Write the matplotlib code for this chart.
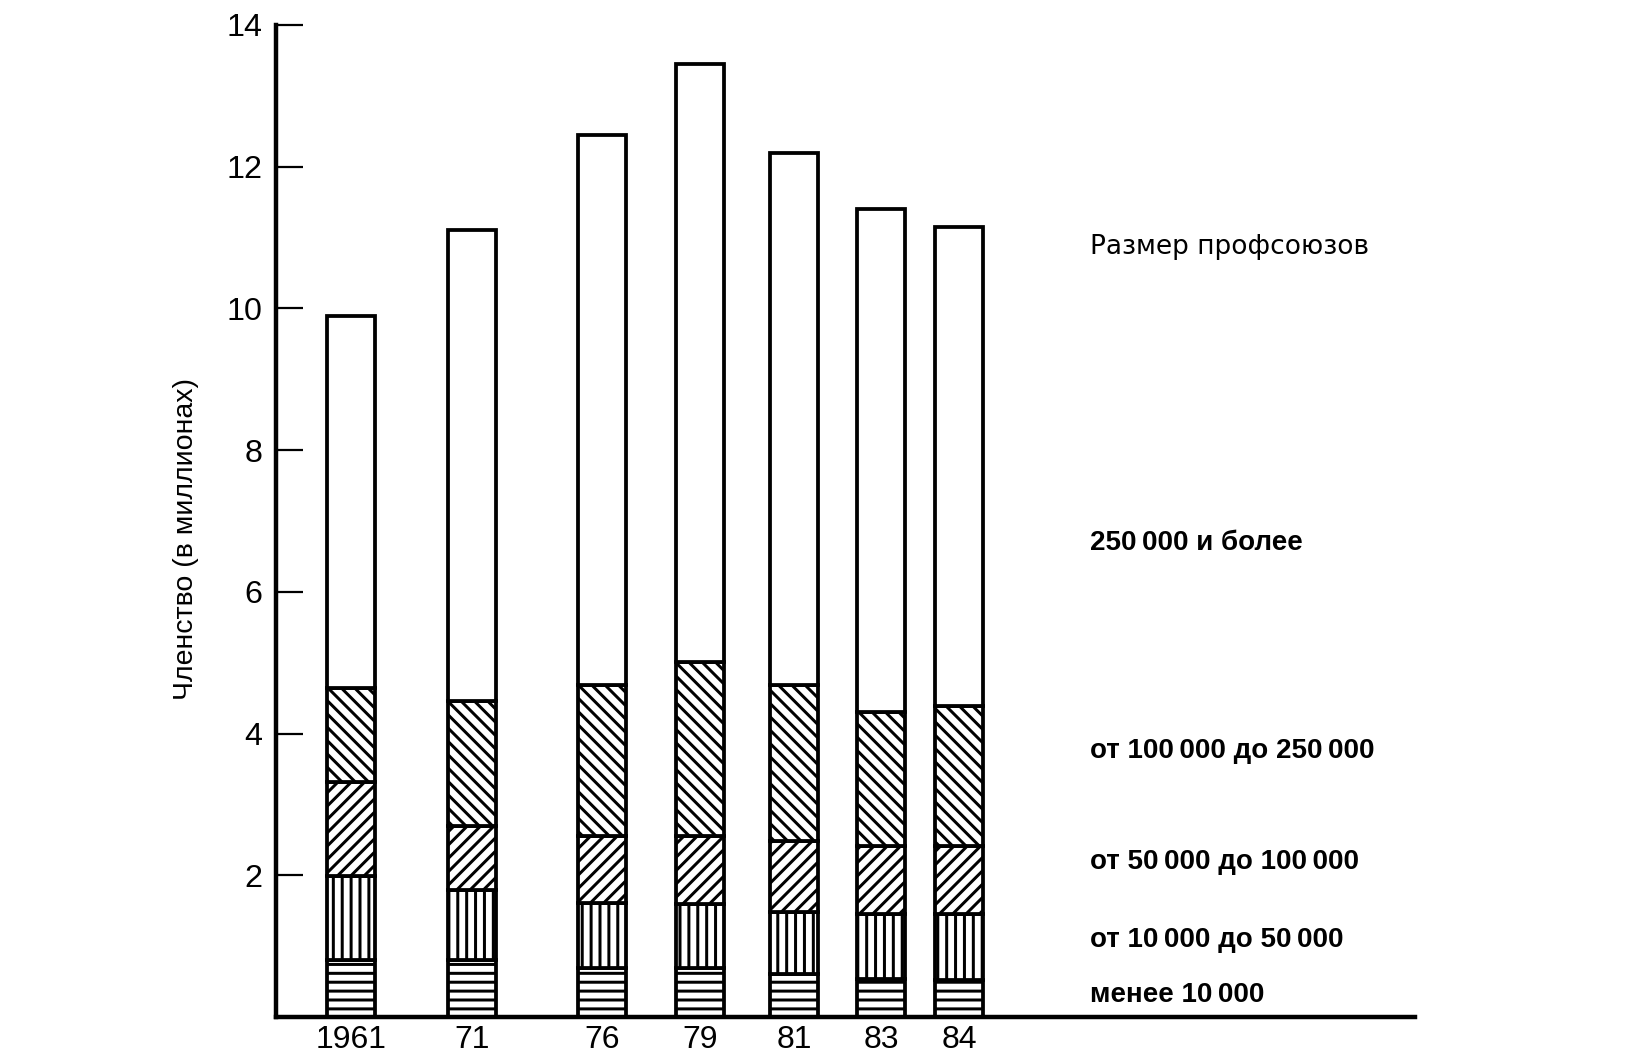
import matplotlib
matplotlib.use("Agg")
import matplotlib.pyplot as plt
import numpy as np

plt.rcParams['font.family'] = ['Liberation Sans', 'DejaVu Sans']
plt.rcParams['hatch.linewidth'] = 1.35
plt.rcParams['hatch.color'] = 'black'

# years on the x axis
years = ['1961', '71', '76', '79', '81', '83', '84']

# membership by union size, millions
under_10k = [0.80, 0.80, 0.69, 0.69, 0.60, 0.54, 0.52]
from_10k_50k = [1.19, 0.99, 0.92, 0.90, 0.88, 0.91, 0.93]
from_50k_100k = [1.32, 0.90, 0.94, 0.96, 1.01, 0.96, 0.96]
from_100k_250k = [1.34, 1.77, 2.13, 2.46, 2.19, 1.89, 1.98]
over_250k = [5.25, 6.64, 7.77, 8.44, 7.52, 7.10, 6.76]

series = [under_10k, from_10k_50k, from_50k_100k, from_100k_250k, over_250k]
hatches = ['---', '|||', '////', '\\\\\\\\', '']

# labels on the right, bottom to top
size_labels = ['менее 10\u2009000',
               'от 10\u2009000 до 50\u2009000',
               'от 50\u2009000 до 100\u2009000',
               'от 100\u2009000 до 250\u2009000',
               '250\u2009000 и более']
legend_title = 'Размер профсоюзов'

# uneven bar spacing as in the original drawing
bar_pos = [75, 196, 326, 424, 518, 605, 683]
bar_w = 48

# dpi 160 so the hatch spacing comes out like the printed one
fig = plt.figure(figsize=(1625 / 160, 1060 / 160), dpi=160)
ax = fig.add_axes([0.16985, 0.04057, 0.7009, 0.93585])

bottom = np.zeros(len(years))
for vals, h in zip(series, hatches):
    ax.bar(bar_pos, vals, bar_w, bottom=bottom, color='white', edgecolor='black',
           linewidth=1.7, hatch=h, zorder=2)
    bottom += np.array(vals)

ax.set_xlim(0, 1139)
ax.set_ylim(0, 14)

for s in ['top', 'right']:
    ax.spines[s].set_visible(False)
ax.spines['left'].set_linewidth(2.0)
ax.spines['bottom'].set_linewidth(2.0)

ax.set_yticks(range(2, 15, 2))
ax.tick_params(axis='y', direction='in', length=12, width=1.0, pad=6, labelsize=14.5)
ax.set_xticks(bar_pos)
ax.set_xticklabels(years)
ax.tick_params(axis='x', length=0, pad=3.8, labelsize=14.4)

fig.text(0.1145, 0.4915, 'Членство (в миллионах)', rotation=90, ha='center', va='center',
         fontsize=12.8)

label_y = [0.0613, 0.1132, 0.1868, 0.2915, 0.4877]
for lab, yy in zip(size_labels, label_y):
    fig.text(0.6708, yy, lab, ha='left', va='center', fontsize=12.5, fontweight='bold')
fig.text(0.6708, 0.767, legend_title, ha='left', va='center', fontsize=11.9,
         family='DejaVu Sans')

plt.savefig("out.png", dpi=160)
